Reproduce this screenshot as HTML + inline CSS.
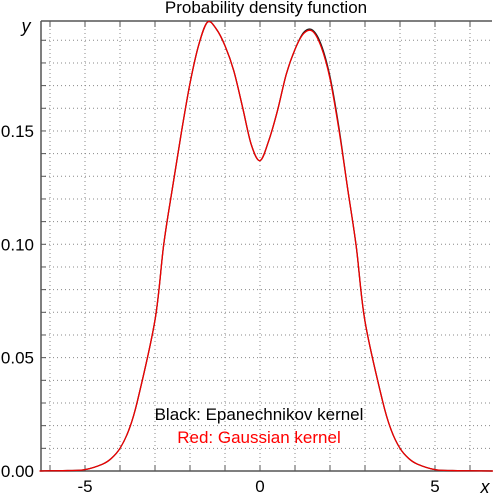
<!DOCTYPE html>
<html><head><meta charset="utf-8"><style>
html,body{margin:0;padding:0;background:#fff;}
svg{display:block;font-family:"Liberation Sans",sans-serif;}
</style></head><body>
<svg id="chart" width="493" height="495">
<g id="grid"></g>
<g id="axes"></g>
<g id="series"></g>
<text x="266" y="13" text-anchor="middle" font-size="17">Probability density function</text>
<text x="26" y="32" text-anchor="middle" font-size="18" font-style="italic">y</text>
<text x="485" y="493" text-anchor="middle" font-size="18" font-style="italic">x</text>
<text x="259" y="420" text-anchor="middle" font-size="17" fill="#000">Black: Epanechnikov kernel</text>
<text x="259" y="443" text-anchor="middle" font-size="17" fill="#f00">Red: Gaussian kernel</text>
</svg>
<script>
const xs = [-6.3,-6,-5.5,-5,-4.5,-4.25,-4,-3.75,-3.5,-3,-2.75,-2.5,-2.25,-2,-1.75,-1.5,-1.25,-1,-0.75,-0.5,-0.25,0,0.25,0.5,0.75,1,1.25,1.5,1.75,2,2.25,2.5,2.75,3,3.5,3.75,4,4.25,4.5,5,5.5,6,6.7];
const blackY = [0,0.0001,0.0002,0.0006,0.003,0.0055,0.010,0.018,0.031,0.0666,0.100,0.125,0.149,0.171,0.188,0.198,0.195,0.1876,0.1766,0.1606,0.144,0.1369,0.1457,0.159,0.175,0.186,0.1935,0.1945,0.188,0.174,0.152,0.125,0.099,0.066,0.031,0.018,0.010,0.0055,0.003,0.0006,0.0002,0.0001,0];
const redY = [0,0.0001,0.0002,0.0006,0.003,0.0055,0.010,0.018,0.031,0.0666,0.100,0.125,0.149,0.171,0.188,0.198,0.195,0.1876,0.1766,0.1606,0.144,0.1369,0.1457,0.159,0.175,0.186,0.193,0.194,0.187,0.173,0.151,0.125,0.099,0.066,0.031,0.018,0.010,0.0055,0.003,0.0006,0.0002,0.0001,0];
const xTicks = [-5,0,5];
const yTicks = [0,0.05,0.10,0.15];
const yTickLabels = ["0.00","0.05","0.10","0.15"];
const L=41,R=492,T=21,B=471;
const sx = v => 260 + v*35;
const sy = v => 471 - v*2267;
const NS="http://www.w3.org/2000/svg";
function mk(tag,attrs,parent){const e=document.createElementNS(NS,tag);for(const k in attrs)e.setAttribute(k,attrs[k]);parent.appendChild(e);return e;}
const grid=document.getElementById('grid'),axes=document.getElementById('axes'),series=document.getElementById('series');
for(let v=-6;v<=6;v++){const x=sx(v);
 const g=mk('line',{x1:x,x2:x,y1:T,y2:B,stroke:'#888','stroke-width':1,'stroke-dasharray':'1,3'},grid);
 
 
 const t1=mk('line',{x1:x,x2:x,y1:B,y2:B-6,stroke:'#555'},axes);
 
 
 const t2=mk('line',{x1:x,x2:x,y1:T,y2:T+6,stroke:'#555'},axes);
 
 }
for(let i=1;i<=19;i++){const y=sy(i*0.01);
 const g=mk('line',{x1:L,x2:R,y1:y,y2:y,stroke:'#888','stroke-width':1,'stroke-dasharray':'1,3'},grid);
 
 
 const t=mk('line',{x1:L,x2:L+5,y1:y,y2:y,stroke:'#555'},axes);
 
 }
const frame=mk('path',{d:`M${L},${T}H${R}M${L},${T}V${B}H${R}`,fill:'none',stroke:'#555','stroke-width':1.5},axes);


xTicks.forEach(v=>{const t=mk('text',{x:sx(v),y:492,'text-anchor':'middle','font-size':17},axes);t.textContent=String(v);
 
 });
yTicks.forEach((v,i)=>{const t=mk('text',{x:34,y:sy(v)+6,'text-anchor':'end','font-size':17},axes);t.textContent=yTickLabels[i];
 
 });
function pathFor(ys){const p=xs.map((x,i)=>[sx(x),sy(ys[i])]);let d=`M${p[0][0]},${p[0][1]}`;
 for(let i=0;i<p.length-1;i++){const p0=p[Math.max(0,i-1)],p1=p[i],p2=p[i+1],p3=p[Math.min(p.length-1,i+2)];
  const c1=[p1[0]+(p2[0]-p0[0])/6,p1[1]+(p2[1]-p0[1])/6],c2=[p2[0]-(p3[0]-p1[0])/6,p2[1]-(p3[1]-p1[1])/6];
  d+=`C${c1[0]},${c1[1]} ${c2[0]},${c2[1]} ${p2[0]},${p2[1]}`;}return d;}
const bl=mk('path',{d:pathFor(blackY),fill:'none',stroke:'#222','stroke-width':1.3},series);


const rl=mk('path',{d:pathFor(redY),fill:'none',stroke:'#e00','stroke-width':1.3},series);


</script>
</body></html>
